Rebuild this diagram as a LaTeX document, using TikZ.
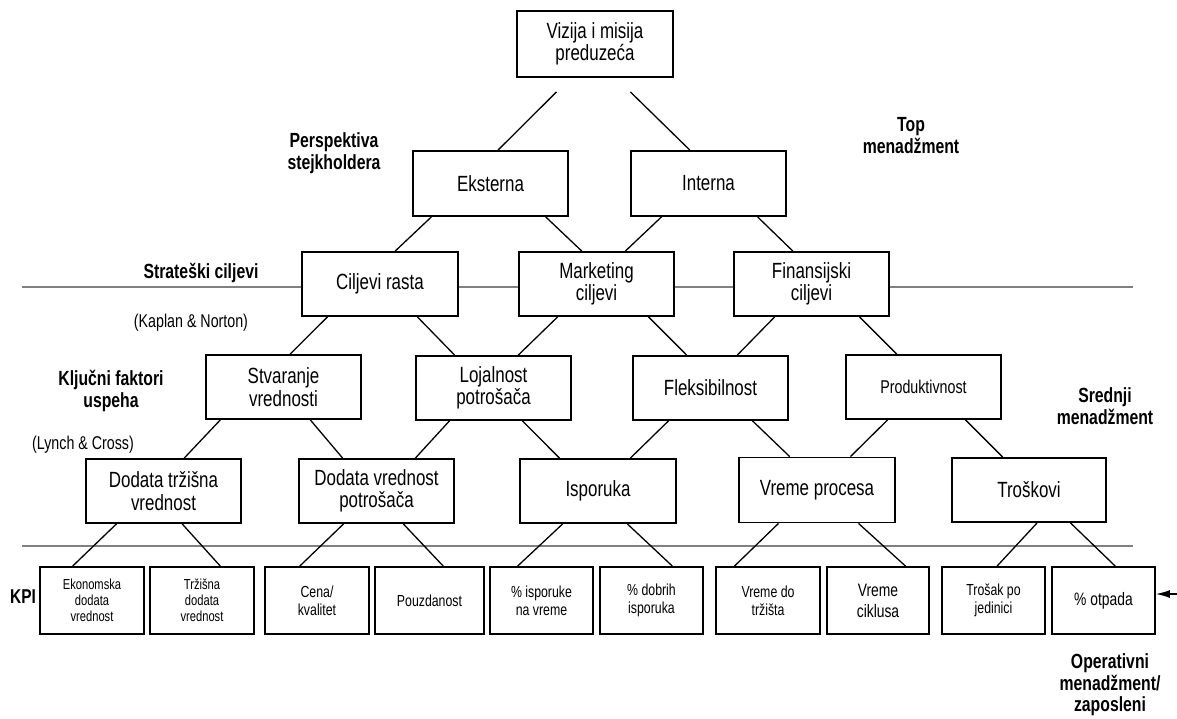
\documentclass[tikz,border=0pt]{standalone}
\usepackage{fontspec}
\setmainfont{Liberation Sans}[FakeStretch=0.77]
\usetikzlibrary{calc,arrows.meta}

\tikzset{
  box/.style={draw, line width=1.8pt, fill=white, inner sep=0pt, align=center,
    font=\fontsize{22}{22.5}\selectfont},
  kpibox/.style={box, minimum height=67pt, font=\fontsize{16}{18}\selectfont},
  conn/.style={line width=1.3pt},
  level/.style={line width=1.5pt, draw=black!50},
  lbl/.style={align=center, inner sep=0pt, font=\bfseries\fontsize{20.5}{22}\selectfont},
  note/.style={align=center, inner sep=0pt, font=\fontsize{18.5}{20}\selectfont},
  pointer/.style={line width=1.3pt, -{Latex[length=14pt,width=8pt]}}
}

% connector from a point on the bottom edge of #1 to a point on the top edge of #3
\newcommand\linkboxes[4]{%
  \draw[conn] ($(#1.south west)!#2!(#1.south east)$) -- ($(#3.north west)!#4!(#3.north east)$);}

\begin{document}
\begin{tikzpicture}[x=1pt, y=-1pt]
\useasboundingbox (0,0) rectangle (1177,719);

% level separators
\coordinate (l1a) at (22,287);
\coordinate (l1b) at (1133,287);
\coordinate (l2a) at (22,546);
\coordinate (l2b) at (1133,546);
\draw[level] (l1a) -- (l1b);
\draw[level] (l2a) -- (l2b);

% hierarchy
\node[box, minimum width=156pt, minimum height=66pt] (viz) at (595,44) {Vizija i misija\\preduzeća};

\node[box, minimum width=155pt, minimum height=65pt] (eks) at (490.5,183.5) {Eksterna};
\node[box, minimum width=155pt, minimum height=65pt] (int) at (708.5,183.5) {Interna};

\node[box, minimum width=156pt, minimum height=64pt] (cil) at (380,284) {Ciljevi rasta};
\node[box, minimum width=155pt, minimum height=64pt] (mkt) at (596.5,284) {Marketing\\ciljevi};
\node[box, minimum width=155pt, minimum height=64pt] (fin) at (811.5,284) {Finansijski\\ciljevi};

\node[box, minimum width=155pt, minimum height=64pt] (stv) at (283.5,387) {Stvaranje\\vrednosti};
\node[box, minimum width=155pt, minimum height=64pt] (loj) at (493.5,388) {Lojalnost\\potrošača};
\node[box, minimum width=155pt, minimum height=64pt] (fle) at (710.5,388) {Fleksibilnost};
\node[box, minimum width=155pt, minimum height=64pt, font=\fontsize{18.5}{20}\selectfont] (pro) at (923.5,387) {Produktivnost};

\node[box, minimum width=155pt, minimum height=64pt] (dtv) at (163.5,491) {Dodata tržišna\\vrednost};
\node[box, minimum width=155pt, minimum height=64pt] (dvp) at (376.5,491) {Dodata vrednost\\potrošača};
\node[box, minimum width=156pt, minimum height=64pt] (isp) at (598,491) {Isporuka};
\node[box, minimum width=156pt, minimum height=65pt] (vrp) at (817,490) {Vreme procesa};
\node[box, minimum width=154pt, minimum height=64pt] (tro) at (1029,490) {Troškovi};

% KPI row
\node[kpibox, minimum width=104pt, font=\fontsize{14.5}{16}\selectfont] (eko) at (92,600.5) {Ekonomska\\dodata\\vrednost};
\node[kpibox, minimum width=104pt, font=\fontsize{14.5}{16}\selectfont] (trz) at (202,600.5) {Tržišna\\dodata\\vrednost};
\node[kpibox, minimum width=104pt] (cen) at (317,600.5) {Cena/\\kvalitet};
\node[kpibox, minimum width=109pt] (pou) at (429.5,600.5) {Pouzdanost};
\node[kpibox, minimum width=103pt] (pis) at (541.5,600.5) {\% isporuke\\na vreme};
\node[kpibox, minimum width=103pt] (pdo) at (651.5,600.5) {\% dobrih\\isporuka};
\node[kpibox, minimum width=104pt] (vdo) at (768,600.5) {Vreme do\\tržišta};
\node[kpibox, minimum width=102pt, font=\fontsize{18}{21}\selectfont] (vci) at (878,600.5) {Vreme\\ciklusa};
\node[kpibox, minimum width=103pt] (tpj) at (993.5,600.5) {Trošak po\\jedinici};
\node[kpibox, minimum width=103pt, font=\fontsize{18}{21}\selectfont] (otp) at (1103.5,600.5) {\% otpada};

% connectors from the top box start a little below it
\draw[conn] ($(viz.south west)!0.256!(viz.south east)+(0,14)$) -- ($(eks.north west)!0.548!(eks.north east)$);
\draw[conn] ($(viz.south west)!0.724!(viz.south east)+(0,14)$) -- ($(int.north west)!0.381!(int.north east)$);

\linkboxes{eks}{0.123}{cil}{0.596}
\linkboxes{eks}{0.852}{mkt}{0.406}
\linkboxes{int}{0.200}{mkt}{0.684}
\linkboxes{int}{0.813}{fin}{0.381}

\linkboxes{cil}{0.167}{stv}{0.542}
\linkboxes{cil}{0.737}{loj}{0.252}
\linkboxes{mkt}{0.252}{loj}{0.658}
\linkboxes{mkt}{0.832}{fle}{0.348}
\linkboxes{fin}{0.265}{fle}{0.671}
\linkboxes{fin}{0.806}{pro}{0.329}

\linkboxes{stv}{0.097}{dtv}{0.632}
\linkboxes{stv}{0.671}{dvp}{0.284}
\linkboxes{loj}{0.219}{dvp}{0.748}
\linkboxes{loj}{0.684}{isp}{0.256}
\linkboxes{fle}{0.232}{isp}{0.705}
\linkboxes{fle}{0.768}{vrp}{0.327}
\linkboxes{pro}{0.271}{vrp}{0.712}
\linkboxes{pro}{0.768}{tro}{0.331}

\linkboxes{dtv}{0.200}{eko}{0.317}
\linkboxes{dtv}{0.619}{trz}{0.673}
\linkboxes{dvp}{0.290}{cen}{0.337}
\linkboxes{dvp}{0.671}{pou}{0.624}
\linkboxes{isp}{0.276}{pis}{0.272}
\linkboxes{isp}{0.686}{pdo}{0.699}
\linkboxes{vrp}{0.256}{vdo}{0.183}
\linkboxes{vrp}{0.763}{vci}{0.765}
\linkboxes{tro}{0.552}{tpj}{0.534}
\linkboxes{tro}{0.766}{otp}{0.612}

% pointer at the KPI row
\coordinate (arrs) at (1177,594);
\draw[pointer] (arrs) -- (arrs -| otp.east);

% level labels
\node[lbl] (persp) at (334,153) {Perspektiva\\stejkholdera};
\node[lbl] (topm) at (911,136) {Top\\menadžment};
\node[lbl] (strat) at (201,273) {Strateški ciljevi};
\node[note] (kap) at (191,323) {(Kaplan \& Norton)};
\node[lbl] (kfu) at (111,391) {Ključni faktori\\uspeha};
\node[note] (lyn) at (83,445) {(Lynch \& Cross)};
\node[lbl] (sred) at (1105,406) {Srednji\\menadžment};
\node[lbl, font=\bfseries\fontsize{20}{22}\selectfont] (kpi) at (23,597) {KPI};
\node[lbl, font=\bfseries\fontsize{20.5}{21.5}\selectfont] (oper) at (1110,685) {Operativni\\menadžment/\\zaposleni};
\end{tikzpicture}
\end{document}
